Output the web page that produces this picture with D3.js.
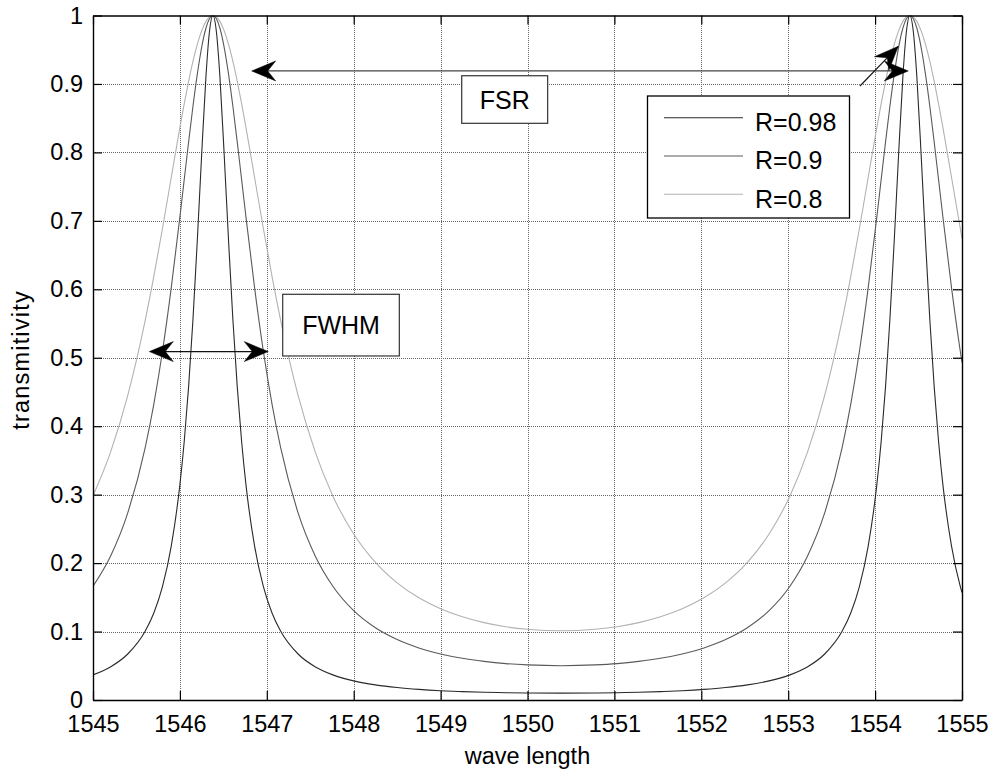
<!DOCTYPE html>
<html>
<head>
<meta charset="utf-8">
<script src="https://cdn.jsdelivr.net/npm/d3@7"></script>
<style>
html,body{margin:0;padding:0;background:#fff;}
svg{display:block;font-family:"Liberation Sans",Arial,sans-serif;}
</style>
</head>
<body>
<svg id="chart" width="994" height="771"></svg>
<script>
// Fabry-Perot transmission for three mirror reflectivities
const wavelength = [1545.00,1545.20,1545.40,1545.60,1545.70,1545.80,1545.90,1546.00,1546.05,1546.10,1546.15,1546.20,1546.25,1546.30,1546.34,1546.38,
  1546.42,1546.46,1546.51,1546.56,1546.61,1546.66,1546.71,1546.76,1546.86,1546.96,1547.06,1547.16,1547.36,1547.56,1547.76,1548.00,1548.25,1548.50,1548.75,1549.00,1549.25,1549.50,1549.75,1550.00,1550.39,
  1550.78,1551.03,1551.28,1551.53,1551.78,1552.03,1552.28,1552.53,1552.78,1553.02,1553.22,1553.42,1553.62,1553.72,1553.82,1553.92,1554.02,1554.07,1554.12,1554.17,1554.22,1554.27,1554.32,1554.36,1554.40,
  1554.44,1554.48,1554.53,1554.58,1554.63,1554.68,1554.73,1554.78,1554.88,1554.98,1555.00];

const tR098 = [0.0367,0.0483,0.0672,0.1004,0.1272,0.1660,0.2243,0.3147,0.3781,0.4574,0.5551,0.6705,0.7959,0.9114,0.9763,1,
  0.9763,0.9114,0.7959,0.6705,0.5551,0.4574,0.3781,0.3147,0.2243,0.1660,0.1272,0.1004,0.0672,0.0483,0.0367,0.0279,0.0221,0.0182,0.0155,0.0136,0.0123,0.0113,0.0107,0.0102,0.0100,
  0.0102,0.0107,0.0113,0.0123,0.0136,0.0155,0.0182,0.0221,0.0279,0.0367,0.0483,0.0672,0.1004,0.1272,0.1660,0.2243,0.3147,0.3781,0.4574,0.5551,0.6705,0.7959,0.9114,0.9763,1,
  0.9763,0.9114,0.7959,0.6705,0.5551,0.4574,0.3781,0.3147,0.2243,0.1660,0.1570];

const tR090 = [0.1662,0.2097,0.2734,0.3684,0.4323,0.5098,0.6017,0.7058,0.7605,0.8150,0.8670,0.9140,0.9532,0.9817,0.9954,1,
  0.9954,0.9817,0.9532,0.9140,0.8670,0.8150,0.7605,0.7058,0.6017,0.5098,0.4323,0.3684,0.2734,0.2097,0.1662,0.1305,0.1055,0.0883,0.0761,0.0673,0.0609,0.0564,0.0532,0.0513,0.0501,
  0.0513,0.0532,0.0564,0.0609,0.0673,0.0761,0.0883,0.1055,0.1305,0.1662,0.2097,0.2734,0.3684,0.4323,0.5098,0.6017,0.7058,0.7605,0.8150,0.8670,0.9140,0.9532,0.9817,0.9954,1,
  0.9954,0.9817,0.9532,0.9140,0.8670,0.8150,0.7605,0.7058,0.6017,0.5098,0.4932];

const tR080 = [0.2981,0.3613,0.4450,0.5542,0.6188,0.6892,0.7630,0.8365,0.8713,0.9037,0.9329,0.9577,0.9775,0.9914,0.9978,1,
  0.9978,0.9914,0.9775,0.9577,0.9329,0.9037,0.8713,0.8365,0.7630,0.6892,0.6188,0.5542,0.4450,0.3613,0.2981,0.2425,0.2010,0.1711,0.1493,0.1333,0.1215,0.1130,0.1070,0.1033,0.1011,
  0.1033,0.1070,0.1130,0.1215,0.1333,0.1493,0.1711,0.2010,0.2425,0.2981,0.3613,0.4450,0.5542,0.6188,0.6892,0.7630,0.8365,0.8713,0.9037,0.9329,0.9577,0.9775,0.9914,0.9978,1,
  0.9978,0.9914,0.9775,0.9577,0.9329,0.9037,0.8713,0.8365,0.7630,0.6892,0.6747];

const seriesNames = ["R=0.98", "R=0.9", "R=0.8"];
const seriesValues = [tR098, tR090, tR080];
const seriesColors = ["#2a2a2a", "#5a5a5a", "#b2b2b2"];

const xTicks = [1545,1546,1547,1548,1549,1550,1551,1552,1553,1554,1555];
const yTicks = [0,0.1,0.2,0.3,0.4,0.5,0.6,0.7,0.8,0.9,1];
const yTickLabels = ["0","0.1","0.2","0.3","0.4","0.5","0.6","0.7","0.8","0.9","1"];

// annotations, in data units
const fwhmArrow = [1545.648, 1547.017, 0.509];          // x1, x2, y
const fwhmBox   = [1547.183, 1548.525, 0.5927, 0.5026]; // x1, x2, yTop, yBottom
const fsrArrow  = [1546.826, 1554.382, 0.919];
const fsrPointer = [1553.826, 0.897, 1554.267, 0.955];  // x1, y1, x2, y2
const fsrBox    = [1549.243, 1550.232, 0.912, 0.8425];

const plot = {left: 93, top: 15.5, right: 962, bottom: 700};

const svg = d3.select("#chart");
const x = d3.scaleLinear().domain([1545, 1555]).range([plot.left, plot.right]);
const y = d3.scaleLinear().domain([0, 1]).range([plot.bottom, plot.top]);

const tickFont = 23.5, annFont = 25;

// grid
const grid = svg.append("g").attr("class", "grid");
grid.selectAll("line.gx").data(xTicks.slice(1, -1)).join("line")
  .attr("x1", d => Math.round(x(d)) + 0.5).attr("x2", d => Math.round(x(d)) + 0.5)
  .attr("y1", plot.top).attr("y2", plot.bottom);
grid.selectAll("line.gy").data(yTicks.slice(1, -1)).join("line")
  .attr("y1", d => Math.round(y(d)) + 0.5).attr("y2", d => Math.round(y(d)) + 0.5)
  .attr("x1", plot.left).attr("x2", plot.right);
grid.selectAll("line").attr("stroke", "#666").attr("stroke-width", 1)
  .attr("stroke-dasharray", "1 1").attr("shape-rendering", "crispEdges");

// curves
svg.append("clipPath").attr("id", "clip").append("rect")
  .attr("x", plot.left).attr("y", plot.top - 1)
  .attr("width", plot.right - plot.left).attr("height", plot.bottom - plot.top + 1);

const line = d3.line().x((d, i) => x(wavelength[i])).y(d => y(d)).curve(d3.curveMonotoneX);
svg.append("g").attr("clip-path", "url(#clip)")
  .selectAll("path").data(seriesValues).join("path")
  .attr("d", d => line(d))
  .attr("fill", "none")
  .attr("stroke", (d, i) => seriesColors[i])
  .attr("stroke-width", 1.1);

// axes with inward ticks on all four sides
const styleAxis = g => {
  g.select(".domain").attr("stroke", "#000").attr("stroke-width", 1.4);
  g.selectAll(".tick line").attr("stroke", "#000").attr("stroke-width", 1.2);
  g.selectAll("text").attr("font-size", tickFont).attr("fill", "#000")
    .attr("font-family", "Liberation Sans, Arial, sans-serif");
};

svg.append("g").attr("transform", `translate(0,${plot.bottom})`)
  .call(d3.axisBottom(x).tickValues(xTicks).tickFormat(d3.format("d"))
    .tickSizeInner(-9).tickSizeOuter(0).tickPadding(15))
  .call(styleAxis);

svg.append("g").attr("transform", `translate(${plot.left},0)`)
  .call(d3.axisLeft(y).tickValues(yTicks).tickFormat((d, i) => yTickLabels[i])
    .tickSizeInner(-9).tickSizeOuter(0).tickPadding(10))
  .call(styleAxis);

svg.append("g").attr("transform", `translate(0,${plot.top})`)
  .call(d3.axisTop(x).tickValues(xTicks).tickFormat("").tickSizeInner(-9).tickSizeOuter(0))
  .call(styleAxis);

svg.append("g").attr("transform", `translate(${plot.right},0)`)
  .call(d3.axisRight(y).tickValues(yTicks).tickFormat("").tickSizeInner(-9).tickSizeOuter(0))
  .call(styleAxis);

// axis titles
svg.append("text")
  .attr("x", (plot.left + plot.right) / 2).attr("y", 764)
  .attr("text-anchor", "middle").attr("font-size", tickFont)
  .text("wave length");

svg.append("text")
  .attr("transform", `translate(29,360) rotate(-90)`)
  .attr("text-anchor", "middle").attr("font-size", tickFont)
  .attr("letter-spacing", 1.2)
  .text("transmitivity");

// arrow helpers
function arrowHead(g, tipX, tipY, fromX, fromY, color) {
  const dx = tipX - fromX, dy = tipY - fromY;
  const len = Math.hypot(dx, dy);
  const ux = dx / len, uy = dy / len, px = -uy, py = ux;
  const L = 24, Wd = 10, I = 16;
  const pts = [
    [tipX, tipY],
    [tipX - ux * L + px * Wd, tipY - uy * L + py * Wd],
    [tipX - ux * I, tipY - uy * I],
    [tipX - ux * L - px * Wd, tipY - uy * L - py * Wd]
  ];
  g.append("path").attr("d", "M" + pts.map(p => p.join(",")).join("L") + "Z")
    .attr("fill", color).attr("stroke", color).attr("stroke-width", 0.5);
}

const ann = svg.append("g");

// FWHM double arrow
{
  const [a, b, v] = fwhmArrow;
  ann.append("line").attr("x1", x(a) + 10).attr("x2", x(b) - 10)
    .attr("y1", y(v)).attr("y2", y(v)).attr("stroke", "#111").attr("stroke-width", 1.2);
  arrowHead(ann, x(a), y(v), x(b), y(v), "#000");
  arrowHead(ann, x(b), y(v), x(a), y(v), "#000");
}

// FSR double arrow and pointer
{
  const [a, b, v] = fsrArrow;
  ann.append("line").attr("x1", x(a) + 10).attr("x2", x(b) - 10)
    .attr("y1", y(v)).attr("y2", y(v)).attr("stroke", "#444").attr("stroke-width", 1.2);
  arrowHead(ann, x(a), y(v), x(b), y(v), "#000");
  arrowHead(ann, x(b), y(v), x(a), y(v), "#000");
  const [x1, y1, x2, y2] = fsrPointer;
  ann.append("line").attr("x1", x(x1)).attr("y1", y(y1)).attr("x2", x(x2)).attr("y2", y(y2))
    .attr("stroke", "#111").attr("stroke-width", 1.1);
  arrowHead(ann, x(x2), y(y2), x(x1), y(y1), "#000");
}

// text boxes
function textBox(box, label) {
  const [a, b, t, bt] = box;
  const g = svg.append("g");
  g.append("rect").attr("x", x(a)).attr("y", y(t))
    .attr("width", x(b) - x(a)).attr("height", y(bt) - y(t))
    .attr("fill", "#fff").attr("stroke", "#333").attr("stroke-width", 1.2);
  g.append("text").attr("x", (x(a) + x(b)) / 2).attr("y", (y(t) + y(bt)) / 2)
    .attr("dy", "0.36em").attr("text-anchor", "middle").attr("font-size", annFont)
    .text(label);
}
textBox(fwhmBox, "FWHM");
textBox(fsrBox, "FSR");

// legend
const legend = svg.append("g").attr("transform", "translate(647.5,96)");
legend.append("rect").attr("width", 202).attr("height", 122)
  .attr("fill", "#fff").attr("stroke", "#000").attr("stroke-width", 1.3);
seriesNames.forEach((name, i) => {
  const ly = 21.7 + i * 38.3;
  legend.append("line").attr("x1", 16.5).attr("x2", 95.5).attr("y1", ly).attr("y2", ly)
    .attr("stroke", seriesColors[i]).attr("stroke-width", 1.1);
  legend.append("text").attr("x", 107.5).attr("y", ly + 13.3)
    .attr("font-size", annFont).text(name);
});
</script>
</body>
</html>
